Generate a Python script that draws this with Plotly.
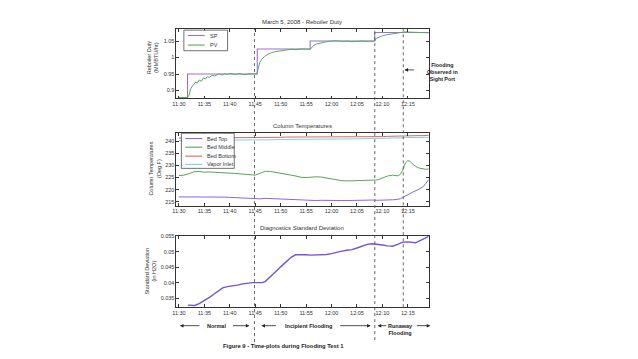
import plotly.graph_objects as go

# ---------------- data ----------------
tick_minutes = [0, 5, 10, 15, 20, 25, 30, 35, 40, 45]
tick_labels = ["11:30", "11:35", "11:40", "11:45", "11:50", "11:55", "12:00", "12:05", "12:10", "12:15"]

# Reboiler duty set point (step changes), minutes after 11:30
sp_minutes = [0, 1.7, 15.4, 25.8, 38.5, 49.1]
sp_values = [0.879, 0.95, 1.026, 1.05, 1.076, 1.076]

pv_minutes = [0, 1.7, 2.0, 2.3, 2.6, 3.0, 3.3, 3.6, 4.0, 4.4, 4.8, 5.2, 5.6, 6.0, 6.5, 7.0, 7.5,
              8.0, 8.5, 9.0, 9.5, 10.0, 11, 12, 13, 14, 15.3, 15.6, 15.9, 16.3, 16.8, 17.5, 18.2,
              19, 20, 21, 22, 23, 24, 25.8, 26.1, 26.5, 27.0, 27.5, 28, 29, 30, 31, 32, 33, 34,
              35, 36, 37, 38.5, 38.8, 39.3, 40, 40.8, 41.5, 42.5, 43.5, 44.5, 45.5, 46.5, 47.5, 49.1]
pv_values = [0.879, 0.879, 0.886, 0.905, 0.912, 0.921, 0.926, 0.922, 0.932, 0.928, 0.938, 0.935,
             0.942, 0.940, 0.946, 0.944, 0.948, 0.951, 0.947, 0.951, 0.949, 0.952, 0.949, 0.951,
             0.948, 0.951, 0.950, 0.966, 0.985, 0.995, 1.003, 1.010, 1.015, 1.018, 1.021, 1.023,
             1.025, 1.024, 1.026, 1.025, 1.031, 1.037, 1.041, 1.043, 1.046, 1.048, 1.050, 1.051,
             1.049, 1.050, 1.048, 1.050, 1.050, 1.049, 1.050, 1.058, 1.062, 1.066, 1.069, 1.071,
             1.074, 1.077, 1.078, 1.077, 1.076, 1.075, 1.075]

temp_minutes = [0, 1, 2, 3, 4, 5, 6, 7, 8, 9, 10, 11, 12, 13, 14, 15, 16, 17, 18, 19, 20, 21, 22,
                23, 24, 25, 26, 27, 28, 29, 30, 31, 32, 33, 34, 35, 36, 37, 38, 39, 40, 41, 42, 43,
                43.5, 44, 44.5, 45, 45.5, 46, 47, 48, 48.5, 49.1]
bed_top = [217.0, 217.0, 217.0, 217.1, 217.1, 217.2, 217.1, 217.1, 217.0, 216.9, 216.8, 216.7,
           216.6, 216.4, 216.2, 216.0, 216.2, 216.4, 216.3, 216.2, 216.1, 215.9, 215.8, 215.7,
           215.6, 215.6, 215.5, 215.5, 215.6, 215.5, 215.5, 215.4, 215.5, 215.5, 215.6, 215.5,
           215.6, 215.6, 215.7, 215.6, 215.6, 215.7, 215.8, 216.0, 216.2, 216.8, 217.4, 218.0,
           218.4, 219.0, 220.0, 221.2, 222.5, 224.2]
bed_middle = [225.8, 226.0, 226.6, 227.4, 227.5, 227.2, 227.3, 227.1, 227.0, 226.9, 226.8, 226.7,
              226.5, 226.3, 226.1, 226.0, 226.8, 227.6, 227.5, 227.2, 226.7, 226.3, 226.0, 225.6,
              225.1, 225.0, 225.2, 225.3, 225.2, 224.8, 224.3, 224.0, 223.7, 223.6, 223.5, 223.7,
              223.8, 224.0, 223.9, 224.0, 224.8, 225.6, 226.0, 225.7, 226.3, 228.0, 231.0, 232.0,
              231.6, 230.4, 229.0, 228.4, 228.4, 228.5]
bed_bottom = [241.3, 241.3, 241.3, 241.4, 241.3, 241.4, 241.4, 241.3, 241.4, 241.4, 241.4, 241.5,
              241.4, 241.5, 241.4, 241.4, 241.5, 241.5, 241.6, 241.6, 241.6, 241.7, 241.7, 241.7,
              241.8, 241.8, 241.8, 241.9, 241.8, 241.8, 241.8, 241.9, 241.8, 241.8, 241.7, 241.7,
              241.7, 241.6, 241.6, 241.7, 241.9, 242.0, 242.1, 242.1, 242.2, 242.2, 242.2, 242.3,
              242.3, 242.3, 242.3, 242.3, 242.4, 242.4]
vapor_inlet = [240.3, 240.3, 240.3, 240.3, 240.4, 240.4, 240.4, 240.4, 240.4, 240.5, 240.5, 240.5,
               240.5, 240.5, 240.5, 240.5, 240.6, 240.6, 240.6, 240.6, 240.7, 240.7, 240.7, 240.7,
               240.8, 240.8, 240.8, 240.8, 240.9, 240.9, 240.9, 240.9, 241.0, 241.0, 241.0, 241.0,
               241.0, 241.1, 241.1, 241.1, 241.2, 241.2, 241.3, 241.3, 241.4, 241.4, 241.5, 241.5,
               241.5, 241.5, 241.6, 241.6, 241.6, 241.6]

std_minutes = [1.75, 3.1, 4, 5, 6, 7, 8, 8.6, 9.5, 10.5, 11.5, 12.5, 13.5, 14.5, 15.5, 16.4, 17,
               18, 19, 20, 21, 22, 22.9, 24, 25, 26, 27, 28, 29, 30, 31, 32, 33, 34, 35, 36, 37,
               38, 39, 40, 41, 42, 43, 44, 45, 46, 46.5, 47, 48, 49.1]
std_values = [0.0327, 0.0326, 0.0332, 0.0341, 0.0352, 0.0364, 0.0376, 0.0383, 0.0387, 0.0389,
              0.0392, 0.0396, 0.0399, 0.0400, 0.0400, 0.0400, 0.0404, 0.0418, 0.0435, 0.0451,
              0.0467, 0.0481, 0.0490, 0.0491, 0.0490, 0.0489, 0.0489, 0.0489, 0.0491, 0.0494,
              0.0499, 0.0502, 0.0505, 0.0507, 0.0512, 0.0519, 0.0524, 0.0526, 0.0525, 0.0522,
              0.0519, 0.0518, 0.0524, 0.0531, 0.0532, 0.0531, 0.0529, 0.0533, 0.0540, 0.0550]

event_minutes = [14.85, 38.5, 44.1]

duty_names = ["SP", "PV"]
temp_names = ["Bed Top", "Bed Middle", "Bed Bottom", "Vapor Inlet"]
std_name = "Standard Deviation"

# ---------------- style ----------------
W, H = 638, 359
FONT = "Liberation Sans, Arial, sans-serif"
TXT = "#333333"
duty_colors = ["#9b6fdc", "#5aa85a"]
temp_colors = ["#8a66e0", "#55a555", "#e06464", "#74d4e4"]
std_color = "#7552e2"


def px(x):
    return x / W


def py(y):
    return 1 - y / H


XL, XR = 173.5, 427.5
XRANGE = [-0.49, 49.12]

fig = go.Figure()

fig.add_trace(go.Scatter(x=sp_minutes, y=sp_values, name=duty_names[0], mode="lines",
                         line=dict(color=duty_colors[0], width=1.1, shape="hv"),
                         xaxis="x", yaxis="y"))
fig.add_trace(go.Scatter(x=pv_minutes, y=pv_values, name=duty_names[1], mode="lines",
                         line=dict(color=duty_colors[1], width=1.0),
                         xaxis="x", yaxis="y"))

for name, vals, col in zip(temp_names, [bed_top, bed_middle, bed_bottom, vapor_inlet], temp_colors):
    fig.add_trace(go.Scatter(x=temp_minutes, y=vals, name=name, mode="lines",
                             line=dict(color=col, width=1.0), xaxis="x2", yaxis="y2"))

fig.add_trace(go.Scatter(x=std_minutes, y=std_values, name=std_name, mode="lines",
                         line=dict(color=std_color, width=1.4), xaxis="x3", yaxis="y3"))

axis_common = dict(showline=True, linecolor="#333333", linewidth=0.8, mirror="ticks",
                   ticks="inside", ticklen=3, tickwidth=0.7, tickcolor="#333333",
                   showgrid=False, zeroline=False,
                   tickfont=dict(family=FONT, size=5.5, color=TXT))

xdom = [px(XL), px(XR)]
panels = [(27, 97, [0.876, 1.087], [0.9, 0.95, 1.0, 1.05], ["0.9", "0.95", "1", "1.05"]),
          (131.7, 205, [213.3, 243.4], [215, 220, 225, 230, 235, 240],
           ["215", "220", "225", "230", "235", "240"]),
          (235, 307, [0.032, 0.0552], [0.035, 0.04, 0.045, 0.05, 0.055],
           ["0.035", "0.04", "0.045", "0.05", "0.055"])]

layout_axes = {}
for i, (top, bot, yr, tv, tt) in enumerate(panels):
    sfx = "" if i == 0 else str(i + 1)
    layout_axes["xaxis" + sfx] = dict(axis_common, domain=xdom, range=XRANGE, anchor="y" + sfx,
                                      tickvals=tick_minutes, ticktext=tick_labels)
    layout_axes["yaxis" + sfx] = dict(axis_common, domain=[py(bot), py(top)], range=yr,
                                      anchor="x" + sfx, tickvals=tv, ticktext=tt)

shapes = []
# event lines (dotted), spanning panels
event_bottoms = [342, 340, 307]
for m, b in zip(event_minutes, event_bottoms):
    shapes.append(dict(type="line", xref="x", yref="paper", x0=m, x1=m, y0=py(b), y1=py(27),
                       line=dict(color="#555555", width=0.9, dash="dot"), layer="above"))

annotations = []


def text(x, y, s, size=6, bold=False, angle=0, xanchor="center", color=TXT):
    annotations.append(dict(x=px(x), y=py(y), xref="paper", yref="paper", text=("<b>%s</b>" % s) if bold else s,
                            showarrow=False, textangle=angle, xanchor=xanchor, yanchor="middle",
                            font=dict(family=FONT, size=size, color=color)))


def arrow(x_head, x_tail, y):
    annotations.append(dict(x=px(x_head), y=py(y), xref="paper", yref="paper", text="",
                            showarrow=True, ax=x_tail - x_head, ay=0, axref="pixel", ayref="pixel",
                            arrowhead=2, arrowsize=0.9, arrowwidth=0.8, arrowcolor="#222222"))


# legends (drawn as boxes)
def legend(x0, x1, y0, y1, names, colors, ys):
    shapes.append(dict(type="rect", xref="paper", yref="paper", x0=px(x0), x1=px(x1),
                       y0=py(y1), y1=py(y0), fillcolor="white",
                       line=dict(color="#333333", width=0.7), layer="above"))
    for n, c, yy in zip(names, colors, ys):
        shapes.append(dict(type="line", xref="paper", yref="paper", x0=px(x0 + 4), x1=px(x0 + 21),
                           y0=py(yy), y1=py(yy), line=dict(color=c, width=1.1), layer="above"))
        text(x0 + 24, yy, n, size=5.5, xanchor="left")


legend(181, 225, 28.3, 49, duty_names, duty_colors, [33.7, 43.3])
legend(178.5, 231.7, 132, 167.3, temp_names, temp_colors, [137.3, 146, 155, 163.3])

# panel titles
text(300, 20, "March 5, 2008 - Reboiler Duty", size=6)
text(300, 125, "Column Temperatures", size=6)
text(300, 227.5, "Diagnostics Standard Deviation", size=6)

# y-axis titles
text(149.5, 56, "Reboiler Duty<br>(MMBTU/hr)", size=5.5, angle=-90)
text(151.5, 168, "Column Temperatures<br>(Deg F)", size=5.5, angle=-90)
text(147, 271, "Standard Deviation<br>(in H2O)", size=5.5, angle=-90)

# flooding observed note
text(441, 70, "Flooding<br>Observed in<br>Sight Port", size=5.3, bold=True, color="#222222")
arrow(403, 414, 68.3)

# regime labels
text(214, 325.5, "Normal", size=5.5, bold=True, color="#222222")
arrow(177, 198, 325.5)
arrow(247, 229, 325.5)
text(306, 325.5, "Incipient Flooding", size=5.5, bold=True, color="#222222")
arrow(259, 275, 325.5)
arrow(369, 337, 325.5)
text(399, 329, "Runaway<br>Flooding", size=5.5, bold=True, color="#222222")
arrow(376, 386, 325.5)
arrow(429, 414, 325.5)

# caption
text(281, 345.5, "Figure 9 - Time-plots during Flooding Test 1", size=5.8, bold=True, color="#222222")

fig.update_layout(width=W, height=H, margin=dict(l=0, r=0, t=0, b=0), showlegend=False,
                  paper_bgcolor="white", plot_bgcolor="white",
                  shapes=shapes, annotations=annotations, **layout_axes)

fig.write_html("out.html", config={"displayModeBar": False},
               post_script="document.body.style.margin='0';document.body.style.padding='0';")
